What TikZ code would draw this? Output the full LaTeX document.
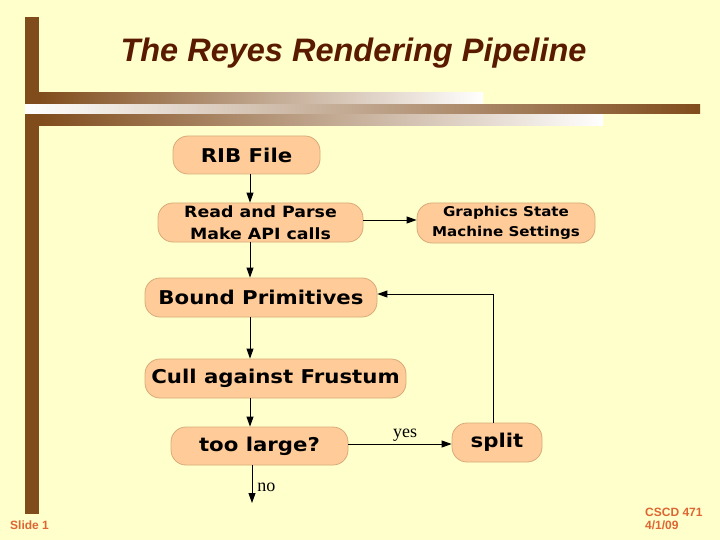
\documentclass[tikz,border=0pt]{standalone}
\usepackage{fontspec}
\setmainfont{Liberation Sans}
\newfontfamily\boxfont{DejaVu Sans}[FakeStretch=1.12]
\newfontfamily\serifx{Liberation Serif}
\usetikzlibrary{arrows.meta}
\definecolor{bg}{RGB}{255,255,204}
\definecolor{brownbar}{RGB}{128,76,28}
\definecolor{titlec}{RGB}{90,26,0}
\definecolor{boxfill}{RGB}{255,204,153}
\definecolor{boxline}{RGB}{215,170,120}
\definecolor{footc}{RGB}{221,102,51}
\begin{document}
\begin{tikzpicture}[x=1pt,y=-1pt,
  box/.style={draw=boxline, fill=boxfill, rounded corners=15pt, line width=0.8pt,
    inner sep=0pt, align=center, text=black},
  big/.style={font=\boxfont\bfseries\fontsize{19}{22}\selectfont},
  arr/.style={-{Triangle[length=10pt,width=7pt]}, line width=0.9pt},
  lbl/.style={font=\serifx\fontsize{18}{20}\selectfont, inner sep=2pt},
  foot/.style={text=footc, font=\fontsize{12}{12.5}\selectfont\bfseries, inner sep=0pt}]
\useasboundingbox (0,0) rectangle (720,540);
\fill[bg] (0,0) rectangle (720,540);
% decoration bars
\fill[brownbar] (25,17) rectangle (39,514);
\shade[left color=brownbar, right color=white] (39,93) rectangle (483,104);
\shade[left color=white, right color=brownbar] (25,105) rectangle (700,114);
\shade[left color=brownbar, right color=white] (39,115) rectangle (603,126);
% title
\node[anchor=base, text=titlec, font=\fontsize{32.5}{36}\selectfont\bfseries\itshape, inner sep=0pt] (title) at (353.5,62) {The Reyes Rendering Pipeline};
% nodes
\node[box, big, minimum width=147pt, minimum height=38pt] (rib) at (246.5,155) {RIB File};
\node[box, font=\boxfont\bfseries\fontsize{15.5}{21.5}\selectfont, minimum width=205pt, minimum height=39pt] (read) at (260.5,222.5) {Read and Parse\\Make API calls};
\node[box, font=\boxfont\bfseries\fontsize{13.5}{20}\selectfont, minimum width=178pt, minimum height=40pt] (gs) at (506,223) {Graphics State\\Machine Settings};
\node[box, big, minimum width=232pt, minimum height=39pt] (bound) at (261,297.5) {Bound Primitives};
\node[box, big, minimum width=261pt, minimum height=39pt] (cull) at (275.5,378.5) {Cull against Frustum};
\node[box, big, minimum width=177pt, minimum height=38pt] (large) at (259.5,446) {too large?};
\node[box, big, minimum width=90pt, minimum height=39pt] (split) at (497,442.5) {split};
% helper coordinates
\coordinate (ax) at (250,0);
\coordinate (ay) at (0,220);
\coordinate (yy) at (0,444);
\coordinate (sx) at (493,0);
\coordinate (by) at (0,294);
\coordinate (nx) at (252,0);
\coordinate (nend) at (252,503);
% connectors
\draw[arr] (rib.south -| ax) -- (read.north -| ax);
\draw[arr] (read.east |- ay) -- (gs.west |- ay);
\draw[arr] (read.south -| ax) -- (bound.north -| ax);
\draw[arr] (bound.south -| ax) -- (cull.north -| ax);
\draw[arr] (cull.south -| ax) -- (large.north -| ax);
\draw[arr] (large.east |- yy) -- node[lbl, above, xshift=5pt] {yes} (split.west |- yy);
\draw[arr] (split.north -| sx) |- (bound.east |- by);
\draw[arr] (large.south -| nx) -- node[lbl, right, xshift=3pt, yshift=-3pt] {no} (nend);
% footer
\node[foot, anchor=base west] (slide) at (10,529) {Slide 1};
\node[foot, anchor=north west, align=left] (course) at (645,508.4) {CSCD 471\\4/1/09};
\end{tikzpicture}
\end{document}
